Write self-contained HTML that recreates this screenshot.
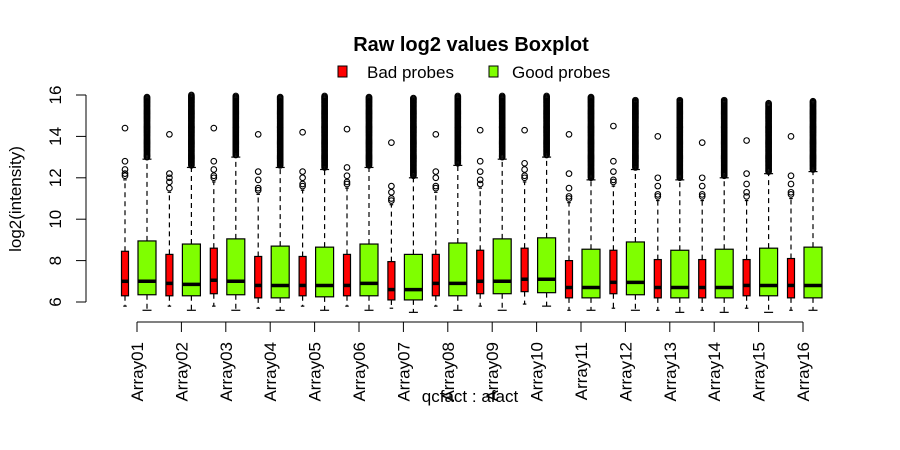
<!DOCTYPE html>
<html><head><meta charset="utf-8"><style>
html,body{margin:0;padding:0;background:#fff;}
svg{display:block;font-family:"Liberation Sans",Arial,sans-serif;}
</style></head><body>
<svg id="chart" width="900" height="450" viewBox="0 0 900 450">
<text x="471" y="51" text-anchor="middle" font-size="20" font-weight="bold">Raw log2 values Boxplot</text>
<g>
<rect x="338" y="66" width="9" height="11" fill="#ff0000" stroke="#000"/>
<text x="367" y="78" font-size="17">Bad probes</text>
<rect x="489" y="66" width="9" height="11" fill="#7fff00" stroke="#000"/>
<text x="512" y="78" font-size="17">Good probes</text>
</g>
<text transform="translate(21,199) rotate(-90)" text-anchor="middle" font-size="17">log2(intensity)</text>
<text x="470" y="402" text-anchor="middle" font-size="17">qcfact : afact</text>
<g id="plot"></g>
</svg>
<script>
const categories=["Array01","Array02","Array03","Array04","Array05","Array06","Array07","Array08","Array09","Array10","Array11","Array12","Array13","Array14","Array15","Array16"];
// bad probes: [lowWhisker,q1,median,q3,highWhisker]
const badStats=[[5.8,6.3,7.0,8.45,11.9],[5.8,6.3,6.9,8.3,11.3],[5.8,6.4,7.05,8.6,11.8],[5.7,6.2,6.8,8.2,11.2],[5.8,6.3,6.8,8.2,11.4],[5.8,6.3,6.8,8.3,11.5],[5.7,6.1,6.6,7.95,10.7],[5.8,6.3,6.9,8.3,11.3],[5.8,6.4,7.0,8.5,11.5],[5.9,6.5,7.1,8.6,11.8],[5.6,6.2,6.7,8.0,10.8],[5.7,6.4,6.95,8.5,11.6],[5.6,6.2,6.7,8.05,10.9],[5.6,6.2,6.7,8.05,10.9],[5.7,6.3,6.8,8.05,10.9],[5.6,6.2,6.8,8.1,11.0]];
const badOutliers=[[12.1,12.2,12.4,12.8,14.4],[11.5,11.8,12.0,12.2,14.1],[12.0,12.1,12.4,12.8,14.4],[11.4,11.5,11.9,12.3,14.1],[11.6,11.7,12.0,12.3,14.2],[11.7,11.8,12.1,12.5,14.35],[10.9,11.0,11.3,11.6,13.7],[11.5,11.6,12.0,12.3,14.1],[11.7,11.9,12.3,12.8,14.3],[12.0,12.1,12.4,12.7,14.3],[11.0,11.1,11.5,12.2,14.1],[11.8,11.9,12.3,12.8,14.5],[11.1,11.2,11.6,12.0,14.0],[11.1,11.2,11.6,12.0,13.7],[11.1,11.3,11.7,12.2,13.8],[11.2,11.3,11.7,12.1,14.0]];
// good probes: [lowWhisker,q1,median,q3,highWhisker,maxOutlier]
const goodStats=[[5.6,6.35,7.0,8.95,12.9,15.9],[5.6,6.3,6.85,8.8,12.5,16.0],[5.6,6.35,7.0,9.05,13.0,15.95],[5.6,6.2,6.8,8.7,12.5,15.9],[5.6,6.25,6.8,8.65,12.4,15.95],[5.6,6.3,6.9,8.8,12.5,15.9],[5.5,6.1,6.6,8.3,12.0,15.85],[5.6,6.3,6.9,8.85,12.6,15.95],[5.6,6.4,7.0,9.05,12.9,15.95],[5.8,6.45,7.1,9.1,13.0,15.95],[5.6,6.2,6.7,8.55,11.9,15.9],[5.6,6.35,6.95,8.9,12.4,15.75],[5.5,6.2,6.7,8.5,11.9,15.75],[5.5,6.2,6.7,8.55,12.0,15.75],[5.5,6.3,6.8,8.6,12.2,15.6],[5.6,6.2,6.8,8.65,12.3,15.7]];
const yTicks=[6,8,10,12,14,16];

const NS="http://www.w3.org/2000/svg";
const plot=document.getElementById('plot');
function yScale(v){return 302-(v-6)*20.7;}
function xScale(i){return 137+i*44.4;}
function mk(tag,attrs){const e=document.createElementNS(NS,tag);for(const k in attrs)e.setAttribute(k,attrs[k]);plot.appendChild(e);return e;}

let ax=mk('line',{x1:86,x2:86,y1:yScale(16),y2:yScale(6),stroke:'#000'});


yTicks.forEach(t=>{
 const l=mk('line',{x1:76,x2:86,y1:yScale(t),y2:yScale(t),stroke:'#000'});
 
 
 const tx=mk('text',{transform:`translate(61,${yScale(t)}) rotate(-90)`,'text-anchor':'middle','font-size':17});
 tx.textContent=t;
 
 
});
let xa=mk('line',{x1:xScale(0),x2:xScale(categories.length-1),y1:322,y2:322,stroke:'#000'});



function drawBox(cx,w,s,fill,name){
 const g=document.createElementNS(NS,'g');plot.appendChild(g);
 
 
 const add=(tag,a)=>{const e=document.createElementNS(NS,tag);for(const k in a)e.setAttribute(k,a[k]);g.appendChild(e);return e;};
 add('line',{x1:cx,x2:cx,y1:yScale(s[3]),y2:yScale(s[4]),stroke:'#000','stroke-dasharray':'5,4','stroke-width':1.2});
 add('line',{x1:cx,x2:cx,y1:yScale(s[1]),y2:yScale(s[0]),stroke:'#000','stroke-dasharray':'5,4','stroke-width':1.2});
 add('line',{x1:cx-w/4,x2:cx+w/4,y1:yScale(s[4]),y2:yScale(s[4]),stroke:'#000','stroke-width':1.2});
 add('line',{x1:cx-w/4,x2:cx+w/4,y1:yScale(s[0]),y2:yScale(s[0]),stroke:'#000','stroke-width':1.2});
 add('rect',{x:cx-w/2,y:yScale(s[3]),width:w,height:yScale(s[1])-yScale(s[3]),fill:fill,stroke:'#000','stroke-width':1.2});
 add('line',{x1:cx-w/2,x2:cx+w/2,y1:yScale(s[2]),y2:yScale(s[2]),stroke:'#000','stroke-width':3.5});
 return g;
}
function circ(cx,v,name){
 const c=mk('circle',{cx:cx,cy:yScale(v),r:2.8,fill:'none',stroke:'#000','stroke-width':1.1});
 
 
}
categories.forEach((cat,i)=>{
 const x=xScale(i);
 const rx=x-12,gx=x+10;
 drawBox(rx,7,badStats[i],'#ff0000','bad-box-'+cat);
 badOutliers[i].forEach(v=>circ(rx,v,'bad-outlier'));
 const gs=goodStats[i];
 drawBox(gx,18,gs,'#7fff00','good-box-'+cat);
 for(let v=gs[4]+0.1;v<=gs[5]+1e-6;v+=0.05) circ(gx,v,'good-outlier');
 const t=mk('line',{x1:x,x2:x,y1:322,y2:332,stroke:'#000'});
 
 
 const lb=mk('text',{transform:`translate(${x+6},342) rotate(-90)`,'text-anchor':'end','font-size':17});
 lb.textContent=cat;
 
 
});
</script>
</body></html>
